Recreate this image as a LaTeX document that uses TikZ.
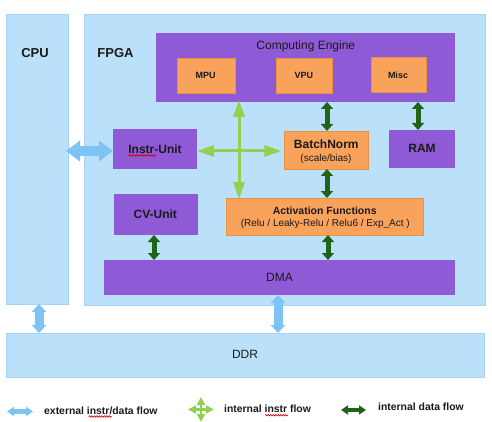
\documentclass[tikz,border=0pt]{standalone}
\usepackage{fontspec}
\setmainfont{Liberation Sans}
\usetikzlibrary{arrows.meta,decorations.pathmorphing}
\definecolor{lblue}{HTML}{BBE1FA}
\definecolor{lblueb}{HTML}{A6D4F5}
\definecolor{purp}{HTML}{8E5AD5}
\definecolor{orng}{HTML}{F8A25C}
\definecolor{orngb}{HTML}{E8913E}
\definecolor{extblue}{HTML}{7DC4F5}
\definecolor{lgreen}{HTML}{92D050}
\definecolor{dgreen}{HTML}{1F6418}
\definecolor{txt}{HTML}{1A1A1A}
\tikzset{
  base/.style={rectangle, inner sep=0pt, outer sep=0pt},
  region/.style={base, fill=lblue, draw=lblueb, line width=0.8pt},
  pbox/.style={base, fill=purp},
  obox/.style={base, fill=orng, draw=orngb, line width=0.8pt},
  lbl/.style={inner sep=0pt, anchor=base, text=txt},
  fA/.style={font=\fontsize{13}{15}\selectfont\bfseries},
  fB/.style={font=\fontsize{12}{14}\selectfont\bfseries},
  fR/.style={font=\fontsize{12}{14}\selectfont},
  fS/.style={font=\fontsize{9}{11}\selectfont\bfseries},
  fSm/.style={font=\fontsize{10.5}{12}\selectfont\bfseries},
  fSr/.style={font=\fontsize{10}{12}\selectfont},
  fL/.style={font=\fontsize{10.4}{12}\selectfont\bfseries},
  extarrow/.style={draw=extblue, line width=9pt,
    {Triangle[width=14pt,length=8pt]}-{Triangle[width=14pt,length=8pt]}},
  exthoriz/.style={draw=extblue, line width=10pt,
    {Triangle[width=20pt,length=14pt]}-{Triangle[width=20pt,length=14pt]}},
  intinstr/.style={draw=lgreen, line width=3pt,
    {Triangle[width=11pt,length=17pt]}-{Triangle[width=11pt,length=17pt]}},
  intdata/.style={draw=dgreen, line width=5pt,
    {Triangle[width=12pt,length=7pt]}-{Triangle[width=12pt,length=7pt]}},
  legext/.style={draw=extblue, line width=5pt,
    {Triangle[width=9pt,length=7pt]}-{Triangle[width=9pt,length=7pt]}},
  leginstr/.style={draw=lgreen, line width=2.5pt,
    {Triangle[width=8pt,length=8pt]}-{Triangle[width=8pt,length=8pt]}},
  legdata/.style={draw=dgreen, line width=4pt,
    {Triangle[width=9pt,length=7pt]}-{Triangle[width=9pt,length=7pt]}},
  squiggle/.style={draw=red!85!black, line width=0.6pt,
    decorate, decoration={snake, amplitude=0.8pt, segment length=2.5pt}},
}
\begin{document}
\begin{tikzpicture}[x=1pt, y=-1pt]
\useasboundingbox (0,0) rectangle (492,422);
\fill[white] (0,0) rectangle (492,422);

% regions
\node[region, minimum width=62pt, minimum height=290pt] (cpu) at (37,159) {};
\node[region, minimum width=401pt, minimum height=291pt] (fpga) at (284.5,159.5) {};
\node[region, minimum width=478pt, minimum height=44pt] (ddr) at (245,355) {};
\node[lbl, fA] (cpulbl) at (35,57.3) {CPU};
\node[lbl, fA] (fpgalbl) at (115.5,57.3) {FPGA};
\node[lbl, fR] (ddrlbl) at (245,358.3) {DDR};

% computing engine
\node[pbox, minimum width=299pt, minimum height=69pt] (ce) at (305.5,67.5) {};
\node[lbl, fR] (celbl) at (305.8,50) {Computing Engine};
\node[obox, minimum width=58pt, minimum height=35pt] (mpu) at (206,75.5) {};
\node[obox, minimum width=56pt, minimum height=35pt] (vpu) at (304,75.5) {};
\node[obox, minimum width=55pt, minimum height=35pt] (misc) at (398.5,74.5) {};
\node[lbl, fS] (mpulbl) at (205.5,79) {MPU};
\node[lbl, fS] (vpulbl) at (303.8,79) {VPU};
\node[lbl, fS] (misclbl) at (398,78.2) {Misc};

% units
\node[pbox, minimum width=84pt, minimum height=40pt] (instr) at (155,149.5) {};
\node[lbl, fB] (instrlbl) at (155,153.2) {Instr-Unit};
\node[obox, minimum width=84pt, minimum height=38pt] (bn) at (326.3,150) {};
\node[lbl, fB] (bnlbl) at (326.3,148.3) {BatchNorm};
\node[lbl, fSr] (bnsub) at (326,161) {(scale/bias)};
\node[pbox, minimum width=66pt, minimum height=38pt] (ram) at (422,149) {};
\node[lbl, fB] (ramlbl) at (422,152.7) {RAM};
\node[pbox, minimum width=84pt, minimum height=41pt] (cv) at (155.8,214.5) {};
\node[lbl, fB] (cvlbl) at (155.3,218.3) {CV-Unit};
\node[obox, minimum width=197pt, minimum height=37pt] (act) at (325.3,216.5) {};
\node[lbl, fSm] (actlbl) at (324.7,214) {Activation Functions};
\node[lbl, fSr] (actsub) at (325.3,226) {(Relu / Leaky-Relu / Relu6 / Exp\_Act )};
\node[pbox, minimum width=351pt, minimum height=35pt] (dma) at (279.5,277.5) {};
\node[lbl, fR] (dmalbl) at (279.5,281.5) {DMA};

% spell-check squiggle under "Instr"
\draw[squiggle] ([yshift=-2.2pt]instrlbl.base west) -- ++(28,0);

% external flows
\coordinate (cpuE) at (cpu.east |- 0,151);
\coordinate (instrW) at (instr.west |- 0,151);
\draw[exthoriz] ([xshift=-2pt]cpuE) -- (instrW);
\draw[extarrow] (cpu.south -| 39,0) -- (ddr.north -| 39,0);
\draw[extarrow] (dma.south -| 278,0) -- (ddr.north -| 278,0);

% internal instr flow (cross)
\coordinate (cross) at (239,151);
\draw[intinstr] (instr.east |- cross) -- ([xshift=-3pt]bn.west |- cross);
\draw[intinstr] ([yshift=2pt]ce.south -| cross) -- ([yshift=-1pt]act.north -| cross);

% internal data flows
\draw[intdata] (ce.south -| 327,0) -- (bn.north -| 327,0);
\draw[intdata] (ce.south -| 418,0) -- (ram.north -| 418,0);
\draw[intdata] (bn.south -| 327,0) -- (act.north -| 327,0);
\draw[intdata] (cv.south -| 154,0) -- (dma.north -| 154,0);
\draw[intdata] (act.south -| 328,0) -- (dma.north -| 328,0);

% legend
\coordinate (l1a) at (7,411.5);
\coordinate (l1b) at (33,411.5);
\draw[legext] (l1a) -- (l1b);
\node[lbl, fL, anchor=base west] (leg1) at (44,414) {external instr/data flow};
\coordinate (l2c) at (201,409.5);
\draw[leginstr] ([xshift=-13pt]l2c) -- ([xshift=13pt]l2c);
\draw[leginstr] ([yshift=-12.5pt]l2c) -- ([yshift=12.5pt]l2c);
\node[lbl, fL, anchor=base west] (leg2) at (224,412.7) {internal instr flow};
\coordinate (l3a) at (341,410);
\coordinate (l3b) at (366,410);
\draw[legdata] (l3a) -- (l3b);
\node[lbl, fL, anchor=base west] (leg3) at (378,410.7) {internal data flow};
\coordinate (sq1) at (88.5,416.5);
\coordinate (sq2) at (265,415.2);
\draw[squiggle] (sq1) -- ++(23,0);
\draw[squiggle] (sq2) -- ++(23,0);
\end{tikzpicture}
\end{document}
